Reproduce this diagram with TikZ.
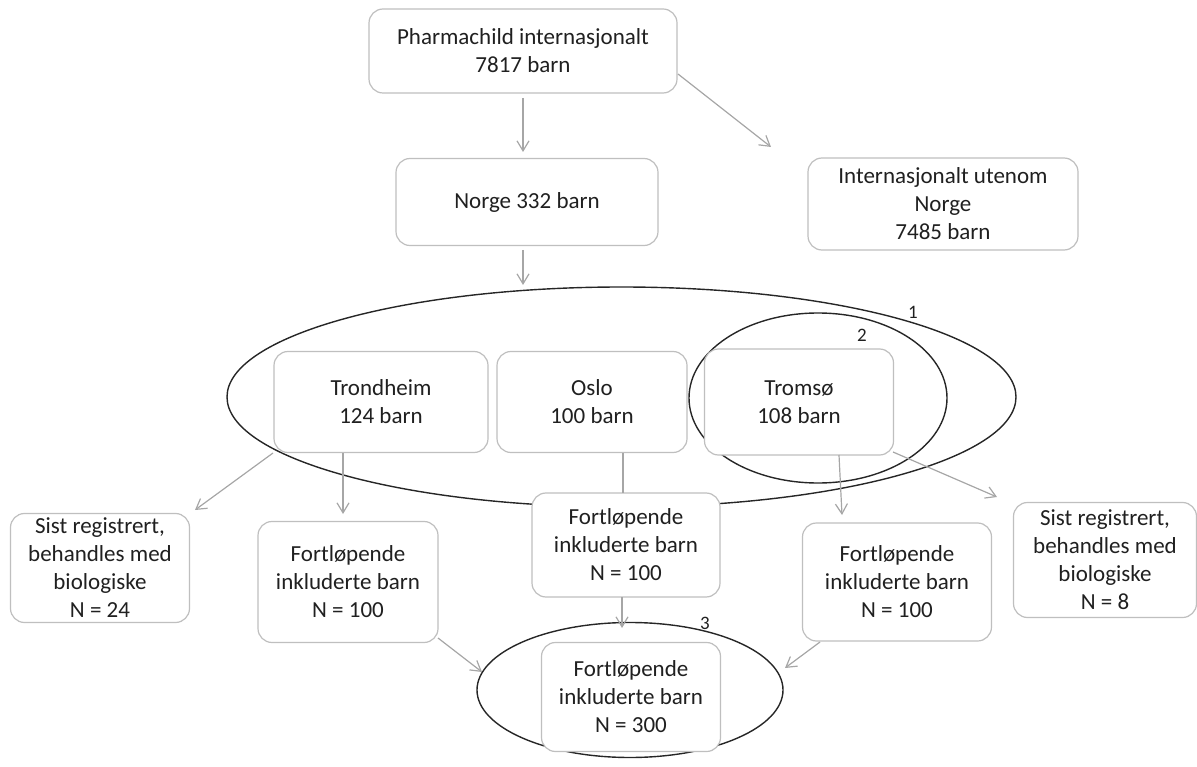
\documentclass[tikz,border=0pt]{standalone}
\usepackage{fontspec}
\setmainfont{Carlito}
\usetikzlibrary{arrows.meta,shapes.geometric}
\definecolor{boxgray}{HTML}{BFBFBF}
\definecolor{arrgray}{HTML}{A6A6A6}
\definecolor{txt}{HTML}{202020}
\begin{document}
\begin{tikzpicture}[x=1pt,y=-1pt,
  box/.style={draw=boxgray, fill=white, line width=1.2pt, rounded corners=14pt, align=center, inner sep=0pt,
    font=\fontsize{23}{28}\selectfont, text=txt},
  conn/.style={draw=arrgray, line width=1.2pt, -{Straight Barb[length=10pt,width=12pt,line width=1.2pt]}},
  plainline/.style={draw=arrgray, line width=1.2pt},
  ring/.style={draw=black!85, line width=1.4pt, ellipse, inner sep=0pt},
  num/.style={font=\fontsize{19}{22}\selectfont, inner sep=0pt, text=txt}]
\useasboundingbox (0,0) rectangle (1197,767);

% ellipses (behind boxes)
\node[ring, minimum width=789pt, minimum height=220pt] (e1) at (621.5,397) {};
\node[ring, minimum width=258pt, minimum height=170pt] (e2) at (818,398) {};
\node[ring, minimum width=306pt, minimum height=135pt] (e3) at (630,690) {};
\node[num] (l1) at (913,312) {1};
\node[num] (l2) at (862,335) {2};
\node[num] (l3) at (705,623) {3};

% boxes
\node[box, minimum width=308pt, minimum height=84pt] (pc) at (523,51) {Pharmachild internasjonalt\\7817 barn};
\node[box, minimum width=262pt, minimum height=87pt] (no) at (527,202) {Norge 332 barn};
\node[box, minimum width=270pt, minimum height=92pt] (iu) at (943,204) {Internasjonalt utenom\\Norge\\7485 barn};
\node[box, minimum width=214pt, minimum height=101pt] (tr) at (381,402) {Trondheim\\124 barn};
\node[box, minimum width=190pt, minimum height=101pt] (os) at (592,402) {Oslo\\100 barn};
\node[box, minimum width=189pt, minimum height=106pt] (tm) at (799,402) {Tromsø\\108 barn};
\node[box, minimum width=179pt, minimum height=109pt] (sl) at (100,568) {Sist registrert,\\behandles med\\biologiske\\N = 24};
\node[box, minimum width=180pt, minimum height=121pt] (fl) at (348,582) {Fortløpende\\inkluderte barn\\N = 100};
\node[box, minimum width=188pt, minimum height=104pt] (fc) at (626,545) {Fortløpende\\inkluderte barn\\N = 100};
\node[box, minimum width=189pt, minimum height=118pt] (fr) at (897,582) {Fortløpende\\inkluderte barn\\N = 100};
\node[box, minimum width=183pt, minimum height=115pt] (sr) at (1105,560) {Sist registrert,\\behandles med\\biologiske\\N = 8};
\node[box, minimum width=179pt, minimum height=109pt] (ft) at (631,697) {Fortløpende\\inkluderte barn\\N = 300};

% connector end points
\coordinate (pcA) at (523,98);   \coordinate (noA) at (523,152);
\coordinate (pcB) at (678,74);   \coordinate (iuA) at (771,147);
\coordinate (noB) at (523,250);  \coordinate (e1A) at (523,285);
\coordinate (trA) at (273,453);  \coordinate (slA) at (195,510);
\coordinate (trB) at (343,453);  \coordinate (flA) at (343,514);
\coordinate (osA) at (623,453);  \coordinate (fcA) at (623,493);
\coordinate (tmA) at (839,455);  \coordinate (frA) at (842,515);
\coordinate (tmB) at (893,452);  \coordinate (srA) at (997,497);
\coordinate (fcB) at (622,597);  \coordinate (e3A) at (622,628);
\coordinate (flB) at (438,638);  \coordinate (e3B) at (482,672);
\coordinate (frB) at (820,642);  \coordinate (e3C) at (785,668);

\draw[conn] (pcA) -- (noA);
\draw[conn] (pcB) -- (iuA);
\draw[conn] (noB) -- (e1A);
\draw[conn] (trA) -- (slA);
\draw[conn] (trB) -- (flA);
\draw[plainline] (osA) -- (fcA);
\draw[conn] (tmA) -- (frA);
\draw[conn] (tmB) -- (srA);
\draw[conn] (fcB) -- (e3A);
\draw[conn] (flB) -- (e3B);
\draw[conn] (frB) -- (e3C);
\end{tikzpicture}
\end{document}
